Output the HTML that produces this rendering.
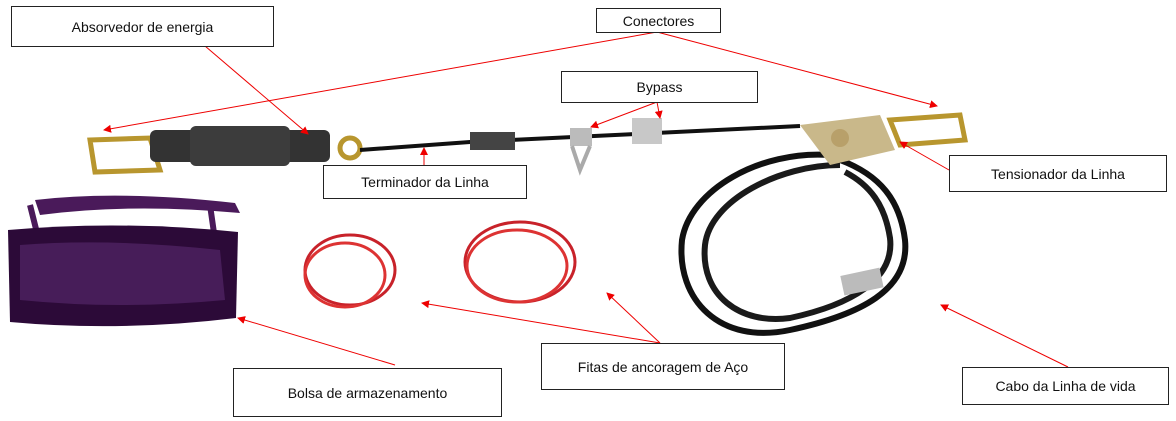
<!DOCTYPE html>
<html><head><meta charset="utf-8"><style>
body{margin:0;background:#fff;width:1176px;height:421px;overflow:hidden;position:relative;font-family:"Liberation Sans",sans-serif}
.b{position:absolute;border:1px solid #222;background:#fff;font-size:14px;display:flex;align-items:center;justify-content:center;color:#111}
svg{position:absolute;left:0;top:0}
</style></head><body>
<svg width="1176" height="421" viewBox="0 0 1176 421">
<defs><marker id="a" markerWidth="8" markerHeight="8" refX="7" refY="4" orient="auto"><path d="M0,0L8,4L0,8z" fill="#e00"/></marker></defs>
<!-- bag -->
<path d="M35,200 Q120,190 235,203 L240,213 Q130,203 40,215z" fill="#4a1a5a"/>
<path d="M30,205 L40,245 M210,205 L215,240" stroke="#4a1a5a" stroke-width="6"/>
<path d="M8,230 Q120,220 238,232 L236,318 Q120,332 10,322z" fill="#2c0a38"/>
<path d="M20,245 Q110,238 220,250 L225,300 Q120,310 20,300z" fill="#5a2a70" opacity=".6"/>
<!-- top lanyard -->
<path d="M90,140 L150,138 L160,170 L95,172z" fill="none" stroke="#b8962e" stroke-width="5"/>
<rect x="150" y="130" width="180" height="32" rx="6" fill="#333"/>
<rect x="190" y="126" width="100" height="40" rx="6" fill="#3c3c3c"/>
<circle cx="350" cy="148" r="10" fill="none" stroke="#b8962e" stroke-width="5"/>
<path d="M360,150 L470,142 L800,126" stroke="#111" stroke-width="4" fill="none"/>
<rect x="470" y="132" width="45" height="18" fill="#444"/>
<rect x="570" y="128" width="22" height="18" fill="#bbb"/>
<path d="M572,146 L580,170 L590,146" stroke="#aaa" stroke-width="4" fill="none"/>
<rect x="632" y="118" width="30" height="26" fill="#c8c8c8"/>
<!-- black cable loop -->
<path d="M830,155 C760,150 690,190 682,240 C676,300 720,345 790,330 C860,315 910,290 905,240 C900,200 880,175 840,160" fill="none" stroke="#111" stroke-width="6"/>
<path d="M840,165 C780,165 710,200 705,245 C700,295 740,325 790,318 C850,305 895,280 890,238 C885,205 870,185 845,172" fill="none" stroke="#1a1a1a" stroke-width="6"/>
<rect x="842" y="272" width="40" height="20" fill="#bbb" transform="rotate(-12 860 282)"/>
<path d="M800,125 L880,115 L895,150 L830,165z" fill="#c9b88a"/>
<circle cx="840" cy="138" r="9" fill="#b8a06a"/>
<path d="M890,120 L960,115 L965,140 L900,145z" fill="none" stroke="#b8962e" stroke-width="5"/>
<!-- red cables -->
<ellipse cx="350" cy="270" rx="45" ry="35" fill="none" stroke="#c8222a" stroke-width="3"/>
<ellipse cx="345" cy="275" rx="40" ry="32" fill="none" stroke="#d33" stroke-width="3"/>
<ellipse cx="520" cy="262" rx="55" ry="40" fill="none" stroke="#c8222a" stroke-width="3"/>
<ellipse cx="517" cy="266" rx="50" ry="36" fill="none" stroke="#d33" stroke-width="3"/>
<!-- arrows -->
<g stroke="#e00" stroke-width="1" fill="none" marker-end="url(#a)">
<line x1="205" y1="46" x2="308" y2="134"/>
<line x1="657" y1="32" x2="104" y2="130"/>
<line x1="657" y1="32" x2="937" y2="106"/>
<line x1="657" y1="102" x2="591" y2="127"/>
<line x1="657" y1="102" x2="660" y2="118"/>
<line x1="424" y1="165" x2="424" y2="148"/>
<line x1="949" y1="170" x2="900" y2="142"/>
<line x1="395" y1="365" x2="238" y2="318"/>
<line x1="660" y1="343" x2="422" y2="303"/>
<line x1="660" y1="343" x2="607" y2="293"/>
<line x1="1068" y1="367" x2="941" y2="305"/>
</g>
</svg>
<div class="b" style="left:11px;top:6px;width:261px;height:39px">Absorvedor de energia</div>
<div class="b" style="left:596px;top:8px;width:123px;height:23px">Conectores</div>
<div class="b" style="left:561px;top:71px;width:195px;height:30px">Bypass</div>
<div class="b" style="left:323px;top:165px;width:202px;height:32px">Terminador da Linha</div>
<div class="b" style="left:949px;top:155px;width:216px;height:35px">Tensionador da Linha</div>
<div class="b" style="left:233px;top:368px;width:267px;height:47px">Bolsa de armazenamento</div>
<div class="b" style="left:541px;top:343px;width:242px;height:45px">Fitas de ancoragem de Aço</div>
<div class="b" style="left:962px;top:367px;width:205px;height:36px">Cabo da Linha de vida</div>
</body></html>
